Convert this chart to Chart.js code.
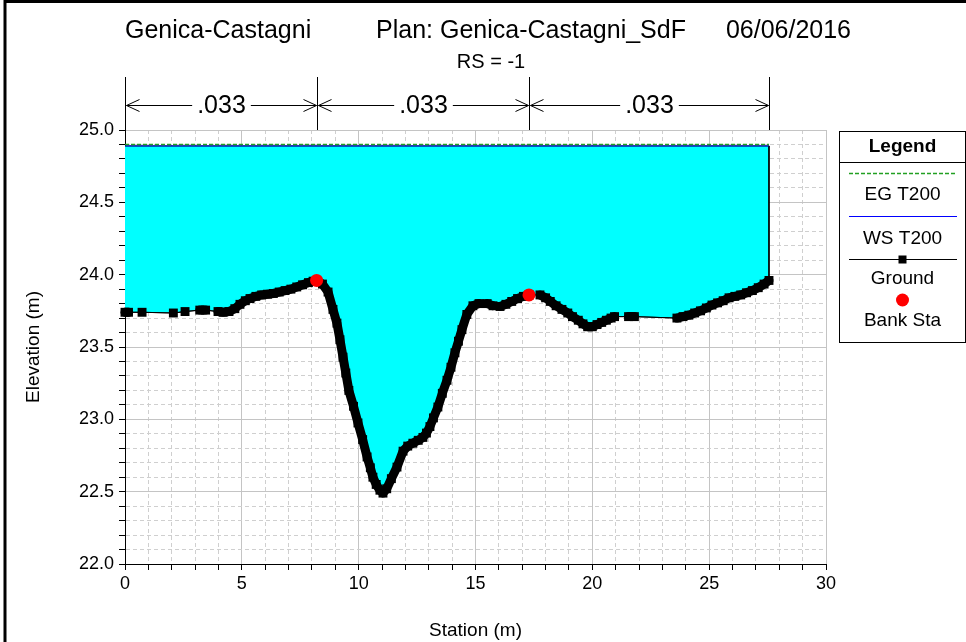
<!DOCTYPE html>
<html>
<head>
<meta charset="utf-8">
<script src="https://cdn.jsdelivr.net/npm/chart.js@4/dist/chart.umd.min.js"></script>
<style>
  html, body { margin: 0; padding: 0; background: #ffffff; }
  #wrap { width: 966px; height: 642px; position: relative; }
</style>
</head>
<body>
<div id="wrap"><canvas id="c" width="966" height="642"></canvas></div>
<script>
// ---------- data ----------
const titleParts = ['Genica-Castagni', 'Plan: Genica-Castagni_SdF', '06/06/2016'];
const subTitle = 'RS = -1';
const xTitle = 'Station (m)';
const yTitle = 'Elevation (m)';

const groundSta = [0, 0.15, 0.73, 2.07, 2.57, 3.2, 3.45, 3.98, 4.2, 4.45, 4.7, 4.92, 5.15, 5.35, 5.6, 5.85, 6.1, 6.35, 6.6, 6.85, 7.1, 7.35, 7.6, 7.85, 8.05, 8.2,
  8.45, 8.69, 8.9, 9.07, 9.2, 9.33, 9.45, 9.58, 9.78, 9.97, 10.17, 10.36, 10.5, 10.61, 10.75, 10.91, 11.04, 11.2, 11.4, 11.64, 11.9, 12.1, 12.32, 12.55, 12.75, 12.9,
  13.05, 13.2, 13.39, 13.58, 13.78, 13.95, 14.12, 14.27, 14.42, 14.63, 14.89, 15.15, 15.5, 15.75, 16.05, 16.3, 16.55, 16.8, 17.05, 17.29,
  17.76, 18.0, 18.2, 18.45, 18.7, 18.95, 19.15, 19.4, 19.6, 19.8, 20.0, 20.2, 20.4, 20.6, 20.8, 20.95, 21.55, 21.8,
  23.62, 23.88, 24.13, 24.38, 24.63, 24.88, 25.12, 25.36, 25.6, 25.85, 26.1, 26.35, 26.6, 26.85, 27.1, 27.35, 27.56];
const groundElev = [23.74, 23.74, 23.74, 23.735, 23.745, 23.755, 23.755, 23.745, 23.74, 23.745, 23.765, 23.795, 23.82, 23.835, 23.85, 23.86, 23.865, 23.87, 23.88, 23.89, 23.90, 23.915, 23.93, 23.945, 23.955, 23.96,
  23.935, 23.88, 23.76, 23.665, 23.55, 23.43, 23.32, 23.20, 23.09, 22.975, 22.86, 22.74, 22.665, 22.60, 22.55, 22.51, 22.49, 22.52, 22.59, 22.67, 22.78, 22.815, 22.835, 22.855, 22.875, 22.905,
  22.95, 23.01, 23.085, 23.18, 23.27, 23.36, 23.46, 23.54, 23.62, 23.725, 23.785, 23.80, 23.80, 23.785, 23.78, 23.795, 23.815, 23.835, 23.85, 23.86,
  23.86, 23.84, 23.815, 23.785, 23.76, 23.735, 23.71, 23.685, 23.66, 23.64, 23.64, 23.655, 23.67, 23.685, 23.70, 23.71, 23.71, 23.71,
  23.70, 23.71, 23.72, 23.735, 23.75, 23.77, 23.79, 23.805, 23.82, 23.84, 23.85, 23.86, 23.875, 23.89, 23.91, 23.935, 23.96];

const bankSta = [8.2, 17.29];
const bankElev = [23.96, 23.86];

const wsElev = 24.89;   // WS T200
const egElev = 24.90;   // EG T200

const nStations = [0, 8.2, 17.29, 27.56];
const nValues = ['.033', '.033', '.033'];

const legendLabels = ['EG T200', 'WS T200', 'Ground', 'Bank Sta'];

// ---------- build ----------
const ground = groundSta.map((s, i) => ({x: s, y: groundElev[i]}));
const banks = bankSta.map((s, i) => ({x: s, y: bankElev[i]}));
const xStart = groundSta[0], xEnd = groundSta[groundSta.length - 1];
const ws = [{x: xStart, y: wsElev}, {x: xEnd, y: wsElev}];
const eg = [{x: xStart, y: egElev}, {x: xEnd, y: egElev}];
// water polygon: along the water surface, then back along the ground
const water = ws.concat(ground.slice().reverse());

const FONT = '"Liberation Sans", Arial, sans-serif';
const isMajor = (v, step) => Math.abs(v / step - Math.round(v / step)) < 1e-6;

const decor = {
  id: 'decor',
  afterDraw(chart) {
    const ctx = chart.ctx;
    const xs = chart.scales.x;
    const top = chart.chartArea.top;
    ctx.save();
    // titles
    ctx.fillStyle = '#000';
    ctx.textBaseline = 'alphabetic';
    ctx.font = '25px ' + FONT;
    ctx.textAlign = 'left';   ctx.fillText(titleParts[0], 125, 38);
    ctx.textAlign = 'center'; ctx.fillText(titleParts[1], 531, 38);
    ctx.textAlign = 'right';  ctx.fillText(titleParts[2], 851, 38);
    ctx.font = '20px ' + FONT;
    ctx.textAlign = 'center';
    ctx.textBaseline = 'middle';
    ctx.fillText(subTitle, 491, 62);

    // Manning's n
    ctx.strokeStyle = '#000';
    ctx.lineWidth = 1;
    const ay = 105.5;
    nStations.forEach(s => {
      const px = Math.round(xs.getPixelForValue(s)) + 0.5;
      ctx.beginPath(); ctx.moveTo(px, 77); ctx.lineTo(px, top); ctx.stroke();
    });
    ctx.font = '25px ' + FONT;
    for (let i = 0; i < nValues.length; i++) {
      const x0 = Math.round(xs.getPixelForValue(nStations[i])) + 0.5;
      const x1 = Math.round(xs.getPixelForValue(nStations[i + 1])) + 0.5;
      const mid = (x0 + x1) / 2;
      const w = ctx.measureText(nValues[i]).width;
      ctx.beginPath();
      ctx.moveTo(x0 + 1, ay); ctx.lineTo(mid - w / 2 - 5, ay);
      ctx.moveTo(mid + w / 2 + 5, ay); ctx.lineTo(x1 - 1, ay);
      ctx.moveTo(x0 + 14, ay - 6); ctx.lineTo(x0 + 1, ay); ctx.lineTo(x0 + 14, ay + 6);
      ctx.moveTo(x1 - 14, ay - 6); ctx.lineTo(x1 - 1, ay); ctx.lineTo(x1 - 14, ay + 6);
      ctx.stroke();
      ctx.fillText(nValues[i], mid, ay + 1);
    }

    // legend box
    const lx = 839.5, ly = 131.5, lw = 126, lh = 211;
    ctx.strokeStyle = '#000';
    ctx.lineWidth = 1;
    ctx.strokeRect(lx, ly, lw, lh);
    ctx.beginPath(); ctx.moveTo(lx, 162.5); ctx.lineTo(lx + lw, 162.5); ctx.stroke();
    const cx = lx + lw / 2;
    ctx.font = 'bold 19px ' + FONT;
    ctx.fillText('Legend', cx, 147);
    ctx.font = '19px ' + FONT;
    // EG
    ctx.strokeStyle = '#22a022';
    ctx.lineWidth = 1.5;
    ctx.setLineDash([4, 2]);
    ctx.beginPath(); ctx.moveTo(849, 173.5); ctx.lineTo(957, 173.5); ctx.stroke();
    ctx.setLineDash([]);
    ctx.lineWidth = 1;
    ctx.fillText(legendLabels[0], cx, 195);
    // WS
    ctx.strokeStyle = '#0000ff';
    ctx.beginPath(); ctx.moveTo(849, 216.5); ctx.lineTo(957, 216.5); ctx.stroke();
    ctx.fillText(legendLabels[1], cx, 239);
    // Ground
    ctx.strokeStyle = '#000';
    ctx.beginPath(); ctx.moveTo(849, 259.5); ctx.lineTo(957, 259.5); ctx.stroke();
    ctx.fillRect(cx - 4, 255.5, 8, 8);
    ctx.fillText(legendLabels[2], cx, 279);
    // Bank
    ctx.fillStyle = '#ff0000';
    ctx.beginPath(); ctx.arc(cx, 300, 6.5, 0, Math.PI * 2); ctx.fill();
    ctx.fillStyle = '#000';
    ctx.fillText(legendLabels[3], cx, 321);

    // outer frame
    ctx.lineWidth = 3;
    ctx.strokeStyle = '#000';
    ctx.strokeRect(5, 1.5, 1000, 700);
    ctx.restore();
  }
};

new Chart(document.getElementById('c'), {
  type: 'scatter',
  data: {
    datasets: [
      { label: 'Bank Sta', data: banks, showLine: false, pointStyle: 'circle', pointRadius: 6.5,
        pointBackgroundColor: '#ff0000', pointBorderWidth: 0, clip: false },
      { label: 'Ground', data: ground, showLine: true, borderColor: '#000', borderWidth: 1,
        borderJoinStyle: 'round', borderCapStyle: 'round',
        segment: { borderWidth: c => (c.p1.parsed.x - c.p0.parsed.x) < 0.29 ? 9 : 1 },
        pointStyle: 'rect', pointRadius: 6.3, pointBackgroundColor: '#000', pointBorderWidth: 0, clip: false },
      { label: 'EG T200', data: eg, showLine: true, borderColor: '#22a022', borderWidth: 1.5,
        borderDash: [4, 2], pointRadius: 0 },
      { label: 'WS T200', data: ws, showLine: true, borderColor: '#0000ff', borderWidth: 1, pointRadius: 0 },
      { label: 'water', data: water, showLine: true, borderColor: '#000', borderWidth: 1, pointRadius: 0,
        fill: 'shape', backgroundColor: '#00ffff' }
    ]
  },
  options: {
    responsive: false,
    animation: false,
    devicePixelRatio: 1,
    layout: { padding: { left: 0, top: 130, right: 140, bottom: 0 } },
    plugins: { legend: { display: false }, tooltip: { enabled: false }, title: { display: false } },
    scales: {
      x: {
        type: 'linear', min: 0, max: 30,
        ticks: { stepSize: 1, autoSkip: false, maxRotation: 0, color: '#000', padding: 3,
          font: { family: FONT, size: 18 },
          callback: v => isMajor(v, 5) ? String(Math.round(v)) : '' },
        grid: { color: c => isMajor(c.tick.value, 5) ? '#c4c4c4' : '#cfcfcf',
          lineWidth: 1, tickColor: '#000', tickLength: 6, drawTicks: true },
        border: { display: true, color: '#000', width: 1, dash: c => (c.tick && isMajor(c.tick.value, 5)) ? [] : [4, 3] },
        title: { display: true, text: xTitle, color: '#000', font: { family: FONT, size: 19 }, padding: { top: 0, bottom: 0 } },
        afterFit: s => { s.height = 78; s.paddingLeft = 0; s.paddingRight = 0; }
      },
      y: {
        type: 'linear', min: 22, max: 25,
        ticks: { stepSize: 0.1, autoSkip: false, color: '#000', padding: 5,
          font: { family: FONT, size: 18 },
          callback: v => isMajor(v, 0.5) ? v.toFixed(1) : '' },
        grid: { color: c => isMajor(c.tick.value, 0.5) ? '#c4c4c4' : '#cfcfcf',
          lineWidth: 1, tickColor: '#000', tickLength: 6 },
        border: { display: true, color: '#000', width: 1, dash: c => (c.tick && isMajor(c.tick.value, 0.5)) ? [] : [4, 3] },
        title: { display: true, text: yTitle, color: '#000', font: { family: FONT, size: 19 }, padding: { top: 22, bottom: 0 } },
        afterFit: s => { s.width = 125; s.paddingTop = 0; s.paddingBottom = 0; }
      }
    }
  },
  plugins: [decor]
});
</script>
</body>
</html>
